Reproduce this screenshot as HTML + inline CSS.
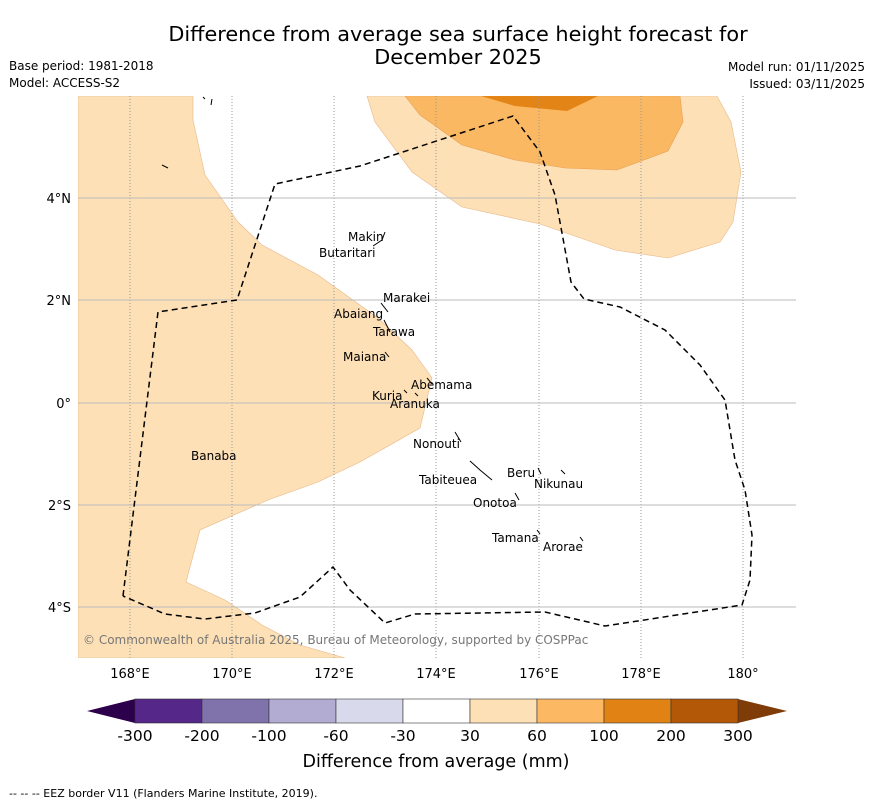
<!DOCTYPE html>
<html><head><meta charset="utf-8"><style>
body{margin:0;background:#fff;font-family:"Liberation Sans","DejaVu Sans",sans-serif;}
svg{display:block}
</style></head><body>
<svg width="873" height="804" viewBox="0 0 873 804" xmlns="http://www.w3.org/2000/svg" font-family="DejaVu Sans, Liberation Sans, sans-serif">
<text x="458" y="41" font-size="20.8" text-anchor="middle">Difference from average sea surface height forecast for</text>
<text x="458" y="64" font-size="20.8" text-anchor="middle">December 2025</text>
<text x="9" y="70" font-size="12">Base period: 1981-2018</text>
<text x="9" y="87" font-size="12">Model: ACCESS-S2</text>
<text x="865" y="71" font-size="12" text-anchor="end">Model run: 01/11/2025</text>
<text x="865" y="88" font-size="12" text-anchor="end">Issued: 03/11/2025</text>
<g>
<clipPath id="mc"><rect x="78" y="96" width="718" height="562"/></clipPath>
<g clip-path="url(#mc)">
<polygon fill="#fde0b6" stroke="#e8b88a" stroke-width="0.6" points="78,96 193,96 193,120 205,175 238,222 262,245 318,275 378,318 412,350 432,378 420,428 360,462 318,482 268,500 200,530 186,582 225,600 262,625 300,645 345,658 78,658"/>
<polygon fill="#fde0b6" stroke="#e8b88a" stroke-width="0.6" points="367,96 375,122 412,172 462,207 540,224 615,250 668,258 720,242 733,222 741,172 731,122 717,96"/>
<polygon fill="#fbb862" stroke="#e59f55" stroke-width="0.6" points="405,96 420,115 462,145 515,160 565,168 617,170 668,151 683,122 680,96"/>
<polygon fill="#e38416" points="481,96 515,106 567,111 598,96"/>
<g stroke="#999" stroke-width="1">
<g stroke-dasharray="1,2">
<line x1="130" y1="96" x2="130" y2="658"/><line x1="232" y1="96" x2="232" y2="658"/><line x1="334" y1="96" x2="334" y2="658"/><line x1="436" y1="96" x2="436" y2="658"/><line x1="539" y1="96" x2="539" y2="658"/><line x1="641" y1="96" x2="641" y2="658"/><line x1="743" y1="96" x2="743" y2="658"/>
</g>
<g stroke="#bbb"><line x1="78" y1="198" x2="796" y2="198"/><line x1="78" y1="300" x2="796" y2="300"/><line x1="78" y1="403" x2="796" y2="403"/><line x1="78" y1="505" x2="796" y2="505"/><line x1="78" y1="607" x2="796" y2="607"/></g>
</g>
<polyline fill="none" stroke="#000" stroke-width="1.5" stroke-dasharray="6,4" points="123,596 158,312 237,300 275,184 360,166 513,116 540,152 555,195 571,282 584,299 620,307 665,330 700,365 725,400 735,460 745,490 752,535 750,580 742,605 605,626 545,612 415,614 385,623 350,590 333,567 300,597 255,613 205,619 165,614 123,596"/>
<g fill="none" stroke="#000" stroke-width="1">
<path d="M373,246 L382,240 L385,232"/><path d="M381,303 L388,312"/><path d="M384,320 L390,332"/><path d="M385,352 L389,357"/><path d="M427,378 L432,384"/><path d="M455,432 L461,442"/><path d="M470,461 L480,470 L492,480"/><path d="M538,468 L541,474"/><path d="M561,470 L565,474"/><path d="M515,493 L519,500"/><path d="M537,530 L540,534"/><path d="M580,537 L583,541"/><path d="M162,165 L168,168"/><path d="M203,97 L205,99 M212,99 L211,105"/><path d="M404,390 L407,393 M415,393 L418,396"/>
</g>
</g>
<g font-size="12" fill="#000">
<text x="348" y="241">Makin</text><text x="319" y="257">Butaritari</text><text x="383" y="302">Marakei</text><text x="334" y="318">Abaiang</text><text x="373" y="336">Tarawa</text><text x="343" y="361">Maiana</text><text x="411" y="389">Abemama</text><text x="372" y="400">Kuria</text><text x="390" y="408">Aranuka</text><text x="413" y="448">Nonouti</text><text x="191" y="460">Banaba</text><text x="507" y="477">Beru</text><text x="534" y="488">Nikunau</text><text x="419" y="484">Tabiteuea</text><text x="473" y="507">Onotoa</text><text x="492" y="542">Tamana</text><text x="543" y="551">Arorae</text>
</g>
<text x="83" y="644" font-size="12" fill="#777">© Commonwealth of Australia 2025, Bureau of Meteorology, supported by COSPPac</text>
</g>
<g font-size="13" fill="#000">
<text x="71" y="203" text-anchor="end">4°N</text><text x="71" y="305" text-anchor="end">2°N</text><text x="71" y="408" text-anchor="end">0°</text><text x="71" y="510" text-anchor="end">2°S</text><text x="71" y="612" text-anchor="end">4°S</text>
<text x="130" y="678" text-anchor="middle">168°E</text><text x="232" y="678" text-anchor="middle">170°E</text><text x="334" y="678" text-anchor="middle">172°E</text><text x="436" y="678" text-anchor="middle">174°E</text><text x="539" y="678" text-anchor="middle">176°E</text><text x="641" y="678" text-anchor="middle">178°E</text><text x="743" y="678" text-anchor="middle">180°</text>
</g>
<g id="cbar"></g>
<text x="436" y="767" font-size="17.5" text-anchor="middle">Difference from average (mm)</text>
<text x="9" y="797" font-size="11">-- -- -- EEZ border V11 (Flanders Marine Institute, 2019).</text>
</svg>
<script>
const binColors=["#542788","#8073ac","#b2abd2","#d8daeb","#ffffff","#fee0b6","#fdb863","#e08214","#b35806"];
const tickLabels=["-300","-200","-100","-60","-30","30","60","100","200","300"];
const lowColor="#2d004b", highColor="#7f3b08";
const g=document.getElementById('cbar'), NS="http://www.w3.org/2000/svg";
const x0=135,x1=738,y0=699,y1=723,w=(x1-x0)/binColors.length;
function mk(t,a){const e=document.createElementNS(NS,t);for(const k in a)e.setAttribute(k,a[k]);g.appendChild(e);return e;}
let p=mk('polygon',{points:`${x0},${y0} 87,711 ${x0},${y1}`,fill:lowColor});


p=mk('polygon',{points:`${x1},${y0} 787,711 ${x1},${y1}`,fill:highColor});


binColors.forEach((c,i)=>{const r=mk('rect',{x:x0+i*w,y:y0,width:w,height:y1-y0,fill:c,stroke:'#333','stroke-width':0.6});

});
tickLabels.forEach((t,i)=>{const e=mk('text',{x:x0+i*w,y:741,'font-size':15.5,'text-anchor':'middle'});e.textContent=t;

});
</script>
</body></html>
